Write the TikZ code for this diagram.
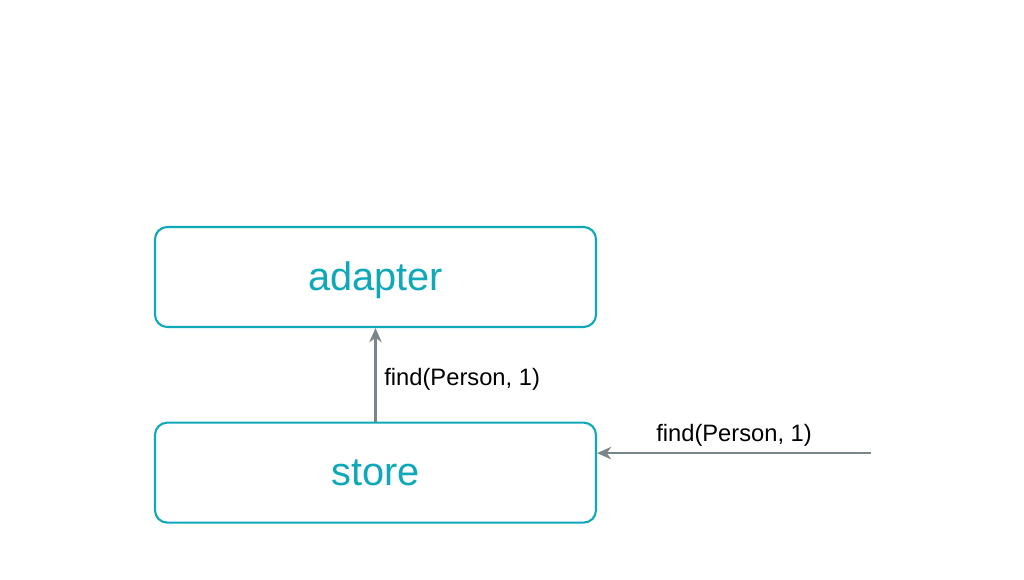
\documentclass[tikz,border=0pt]{standalone}
\usepackage{fontspec}
\setsansfont{Liberation Sans}
\usetikzlibrary{
  arrows.meta,
  positioning
}
\definecolor{layer}{RGB}{14,168,185}
\definecolor{call}{RGB}{122,133,138}

\tikzset{
  layerbox/.style={draw=layer, line width=1.2pt, rounded corners=7pt,
        minimum width=8.82cm, minimum height=2cm, fill=white,
        text height=17pt, text depth=2pt,
        font=\fontsize{22.6}{26}\selectfont\sffamily\color{layer}},
  callarrow/.style={draw=call, line width=1.4pt,
        -{Stealth[length=8pt, width=7pt, inset=2.5pt]}},
  calllabel/.style={font=\fontsize{13.5}{16}\selectfont\sffamily}
}

\begin{document}
\begin{tikzpicture}
  \useasboundingbox (0,0) rectangle (20.48,-11.6);
  \node[layerbox] (adapter) at (7.51,-5.54) {adapter};
  \node[layerbox, below=1.87cm of adapter] (store) {store};
  \coordinate[above right=0.39cm and 5.48cm of store.east] (caller);
  % store asks the adapter
  \draw[callarrow] (store) -- (adapter)
    node[calllabel, midway, right=1pt, yshift=-2.5pt] (findup) {find(Person, 1)};
  % outside call into the store
  \draw[callarrow] (caller) -- (caller -| store.east)
    node[calllabel, midway, above=0pt] (findin) {find(Person, 1)};
\end{tikzpicture}
\end{document}
